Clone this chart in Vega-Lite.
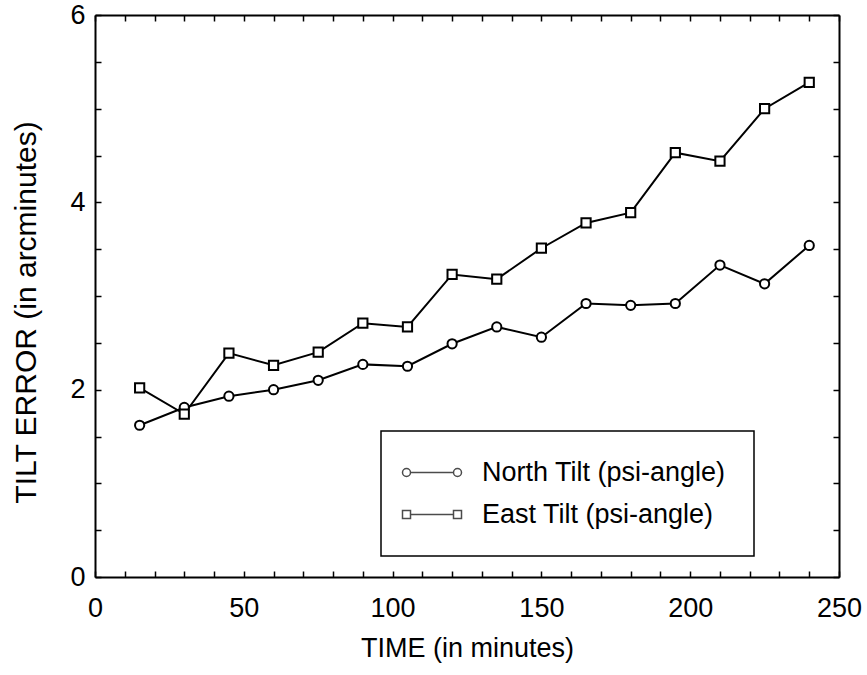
{
  "$schema": "https://vega.github.io/schema/vega-lite/v6.json",
  "autosize": {"type": "none"},
  "width": 744,
  "height": 562,
  "padding": {"left": 95, "top": 15, "right": 28, "bottom": 98},
  "background": "white",
  "config": {
    "view": {"stroke": null},
    "font": "Liberation Sans",
    "axis": {
      "domainColor": "black", "domainWidth": 2,
      "tickColor": "black", "tickWidth": 1.5, "ticks": true,
      "labelColor": "black", "titleColor": "black",
      "labelFont": "Liberation Sans", "titleFont": "Liberation Sans",
      "titleFontWeight": "normal", "labelFontSize": 27,
      "grid": false, "labelFlush": false, "labelOverlap": false
    },
    "legend": {"labelFont": "Liberation Sans", "strokeWidth": 1.5}
  },
  "data": {"values": [
    {"time": 15, "value": 1.62, "series": "North Tilt (psi-angle)"},
    {"time": 30, "value": 1.81, "series": "North Tilt (psi-angle)"},
    {"time": 45, "value": 1.93, "series": "North Tilt (psi-angle)"},
    {"time": 60, "value": 2.00, "series": "North Tilt (psi-angle)"},
    {"time": 75, "value": 2.10, "series": "North Tilt (psi-angle)"},
    {"time": 90, "value": 2.27, "series": "North Tilt (psi-angle)"},
    {"time": 105, "value": 2.25, "series": "North Tilt (psi-angle)"},
    {"time": 120, "value": 2.49, "series": "North Tilt (psi-angle)"},
    {"time": 135, "value": 2.67, "series": "North Tilt (psi-angle)"},
    {"time": 150, "value": 2.56, "series": "North Tilt (psi-angle)"},
    {"time": 165, "value": 2.92, "series": "North Tilt (psi-angle)"},
    {"time": 180, "value": 2.90, "series": "North Tilt (psi-angle)"},
    {"time": 195, "value": 2.92, "series": "North Tilt (psi-angle)"},
    {"time": 210, "value": 3.33, "series": "North Tilt (psi-angle)"},
    {"time": 225, "value": 3.13, "series": "North Tilt (psi-angle)"},
    {"time": 240, "value": 3.54, "series": "North Tilt (psi-angle)"},
    {"time": 15, "value": 2.02, "series": "East Tilt (psi-angle)"},
    {"time": 30, "value": 1.74, "series": "East Tilt (psi-angle)"},
    {"time": 45, "value": 2.39, "series": "East Tilt (psi-angle)"},
    {"time": 60, "value": 2.26, "series": "East Tilt (psi-angle)"},
    {"time": 75, "value": 2.40, "series": "East Tilt (psi-angle)"},
    {"time": 90, "value": 2.71, "series": "East Tilt (psi-angle)"},
    {"time": 105, "value": 2.67, "series": "East Tilt (psi-angle)"},
    {"time": 120, "value": 3.23, "series": "East Tilt (psi-angle)"},
    {"time": 135, "value": 3.18, "series": "East Tilt (psi-angle)"},
    {"time": 150, "value": 3.51, "series": "East Tilt (psi-angle)"},
    {"time": 165, "value": 3.78, "series": "East Tilt (psi-angle)"},
    {"time": 180, "value": 3.89, "series": "East Tilt (psi-angle)"},
    {"time": 195, "value": 4.53, "series": "East Tilt (psi-angle)"},
    {"time": 210, "value": 4.44, "series": "East Tilt (psi-angle)"},
    {"time": 225, "value": 5.00, "series": "East Tilt (psi-angle)"},
    {"time": 240, "value": 5.28, "series": "East Tilt (psi-angle)"}
  ]},
  "resolve": {
    "scale": {"shape": "independent"},
    "legend": {"shape": "independent"},
    "axis": {"x": "independent", "y": "independent"}
  },
  "layer": [
    {
      "mark": {"type": "line", "color": "black", "strokeWidth": 2},
      "encoding": {
        "x": {"field": "time", "type": "quantitative",
          "scale": {"domain": [0, 250], "nice": false, "zero": false},
          "axis": {"orient": "bottom",
            "values": [0,10,20,30,40,50,60,70,80,90,100,110,120,130,140,150,160,170,180,190,200,210,220,230,240,250],
            "labelExpr": "datum.value % 50 === 0 ? format(datum.value, 'd') : ''",
            "tickSize": -6,
            "labelPadding": 24,
            "title": "TIME (in minutes)", "titleFontSize": 27, "titlePadding": 14}},
        "y": {"field": "value", "type": "quantitative",
          "scale": {"domain": [0, 6], "nice": false, "zero": false},
          "axis": {"orient": "left",
            "values": [0,0.5,1,1.5,2,2.5,3,3.5,4,4.5,5,5.5,6],
            "labelExpr": "datum.value % 2 === 0 ? format(datum.value, 'd') : ''",
            "tickSize": -6,
            "labelPadding": 16,
            "title": "TILT ERROR (in arcminutes)", "titleFontSize": 30, "titlePadding": 28, "titleY": 297}},
        "detail": {"field": "series", "type": "nominal"}
      }
    },
    {
      "mark": {"type": "point", "filled": true, "fill": "white", "stroke": "black", "strokeWidth": 2, "size": 85, "opacity": 1},
      "encoding": {
        "x": {"field": "time", "type": "quantitative",
          "axis": {"orient": "top",
            "values": [0,10,20,30,40,50,60,70,80,90,100,110,120,130,140,150,160,170,180,190,200,210,220,230,240,250],
            "labels": false, "title": null, "tickSize": -6}},
        "y": {"field": "value", "type": "quantitative",
          "axis": {"orient": "right",
            "values": [0,0.5,1,1.5,2,2.5,3,3.5,4,4.5,5,5.5,6],
            "labels": false, "title": null, "tickSize": -6}},
        "shape": {"field": "series", "type": "nominal",
          "scale": {"domain": ["North Tilt (psi-angle)", "East Tilt (psi-angle)"], "range": ["circle", "square"]},
          "legend": null}
      }
    },
    {
      "transform": [{"filter": "datum.time < 0"}],
      "mark": {"type": "point", "filled": false, "stroke": "black", "strokeWidth": 1.5, "size": 400},
      "encoding": {
        "x": {"field": "time", "type": "quantitative", "axis": null},
        "y": {"field": "value", "type": "quantitative", "axis": null},
        "shape": {"field": "series", "type": "nominal",
          "scale": {"domain": ["North Tilt (psi-angle)", "East Tilt (psi-angle)"],
            "range": [
              "M-2.0,0 A0.4,0.4 0 1,1 -1.2,0 A0.4,0.4 0 1,1 -2.0,0 M-1.2,0 L3.1,0 M3.1,0 A0.4,0.4 0 1,1 3.9,0 A0.4,0.4 0 1,1 3.1,0",
              "M-2.0,-0.4 L-1.2,-0.4 L-1.2,0.4 L-2.0,0.4 Z M-1.2,0 L3.1,0 M3.1,-0.4 L3.9,-0.4 L3.9,0.4 L3.1,0.4 Z"
            ]},
          "legend": {
            "orient": "none", "legendX": 286, "legendY": 416,
            "title": null,
            "padding": 28,
            "strokeColor": "black", "fillColor": "white",
            "symbolSize": 400, "symbolStrokeWidth": 1.5, "symbolStrokeColor": "black",
            "symbolFillColor": "transparent",
            "labelFontSize": 27, "labelColor": "black", "labelOffset": 46, "labelLimit": 600,
            "labelExpr": "datum.label + '\u00a0\u00a0\u00a0\u00a0\u00a0\u00a0\u00a0\u00a0'",
            "rowPadding": 14
          }}
      }
    }
  ]
}
